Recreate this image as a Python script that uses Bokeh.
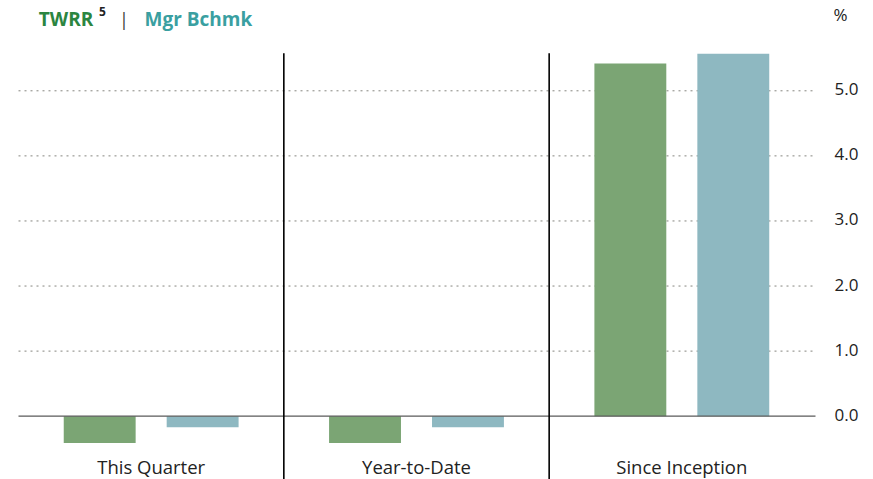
from bokeh.plotting import figure
from bokeh.models import ColumnDataSource, Range1d
from bokeh.core.properties import value
from bokeh.embed import file_html
from bokeh.resources import INLINE

# ---- data ----
categories = ["This Quarter", "Year-to-Date", "Since Inception"]
twrr = [-0.41, -0.41, 5.42]
mgr_bchmk = [-0.17, -0.17, 5.57]
y_ticks = [0.0, 1.0, 2.0, 3.0, 4.0, 5.0]
grid_ticks = [1.0, 2.0, 3.0, 4.0, 5.0]
series_names = ["TWRR", "Mgr Bchmk"]
footnote = "5"
unit_label = "%"

# ---- style / layout ----
GREEN = "#7ba574"
TEAL = "#8eb8c1"
GREEN_TXT = "#2b8540"
TEAL_TXT = "#3a9fa1"
TXT = "#222222"
FONT = value("Open Sans")

W, H = 873, 479
PX_X = 265.33          # pixels per category
X0 = 18.0              # pixel of first category's left edge
PX_Y = 65.08           # pixels per 1.0 %
Y0 = 415.7             # pixel of 0.0


def dx(px):
    return (px - X0) / PX_X


def dy(py):
    return (Y0 - py) / PX_Y


BAR_W = 0.271
OFFSET = 0.194
n = len(categories)
centers = [i + 0.5 for i in range(n)]

p = figure(width=W, height=H, output_backend="svg", toolbar_location=None,
           x_range=Range1d(dx(0), dx(W)), y_range=Range1d(dy(H), dy(0)),
           x_axis_location=None, y_axis_location=None,
           min_border=0, min_border_left=0, min_border_right=0,
           min_border_top=0, min_border_bottom=0)
p.outline_line_color = None
p.background_fill_color = "white"
p.border_fill_color = "white"
p.grid.visible = False

# dotted gridlines
p.segment(x0=[0] * len(grid_ticks), x1=[dx(812)] * len(grid_ticks),
          y0=grid_ticks, y1=grid_ticks, line_color="#85857f",
          line_dash="2 4", line_width=1)

# bars
src = ColumnDataSource(dict(
    x_twrr=[c - OFFSET for c in centers],
    x_bm=[c + OFFSET for c in centers],
    twrr=twrr, bm=mgr_bchmk,
))
p.vbar(x="x_twrr", top="twrr", bottom=0, width=BAR_W, source=src,
       fill_color=GREEN, line_color=None)
p.vbar(x="x_bm", top="bm", bottom=0, width=BAR_W, source=src,
       fill_color=TEAL, line_color=None)

# zero line
p.segment(x0=[0], x1=[dx(815)], y0=[0], y1=[0], line_color="#5a5a5a", line_width=1.2)

# category separators
seps = list(range(1, n))
p.segment(x0=seps, x1=seps, y0=[dy(H)] * len(seps), y1=[dy(52.7)] * len(seps),
          line_color="black", line_width=1.6)

# y tick labels on the right
p.text(x=[dx(834)] * len(y_ticks), y=y_ticks, text=[f"{t:.1f}" for t in y_ticks],
       text_font=FONT, text_font_size="17px", text_color=TXT,
       text_align="left", text_baseline="middle", y_offset=-1.5)
# unit label
p.text(x=[dx(833)], y=[dy(14)], text=[unit_label], text_font=FONT,
       text_font_size="17px", text_color=TXT, text_baseline="middle")

# category labels
p.text(x=centers, y=[dy(465.6)] * n, text=categories, text_font=FONT,
       text_font_size="18.5px", text_color=TXT, text_align="center",
       text_baseline="middle")

# header legend
p.text(x=[dx(38.3)], y=[dy(18.7)], text=[series_names[0]], text_font=FONT,
       text_font_style="bold", text_font_size="19px", text_color=GREEN_TXT,
       text_baseline="middle")
p.text(x=[dx(98.5)], y=[dy(10.5)], text=[footnote], text_font=FONT,
       text_font_style="bold", text_font_size="12px", text_color=TXT,
       text_baseline="middle")
p.text(x=[dx(123.5)], y=[dy(18.5)], text=["|"], text_font=FONT,
       text_font_size="18px", text_color="#3a3a3a", text_align="center",
       text_baseline="middle")
p.text(x=[dx(144)], y=[dy(18.7)], text=[series_names[1]], text_font=FONT,
       text_font_style="bold", text_font_size="19px", text_color=TEAL_TXT,
       text_baseline="middle")

open("out.html", "w").write(file_html(p, INLINE))
